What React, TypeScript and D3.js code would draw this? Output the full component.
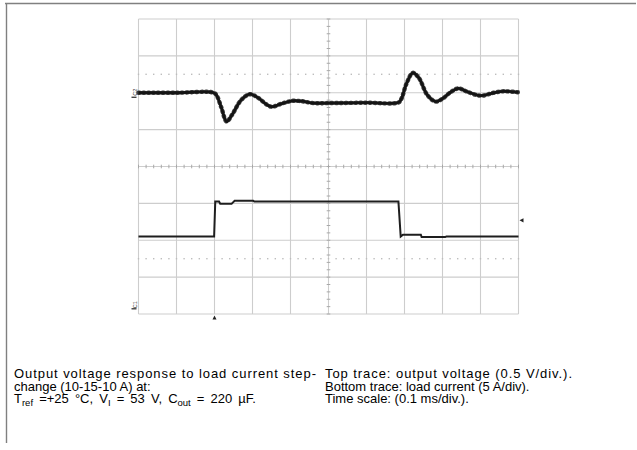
import React from 'react';
import * as d3 from 'd3';

// time in µs (0.1 ms/div), top trace = output voltage deviation in V (0.5 V/div)
const vTime = [0, 100, 198, 206, 218, 232, 246, 270, 293, 315, 340, 352, 375, 405, 430, 460, 500, 600, 685, 692, 705, 722, 738, 760, 782, 800, 822, 842, 862, 900, 935, 960, 1000];
const vDev = [0, 0, 0, -0.04, -0.2, -0.39, -0.3, -0.1, -0.02, -0.07, -0.17, -0.19, -0.15, -0.11, -0.115, -0.14, -0.14, -0.135, -0.13, -0.08, 0.12, 0.27, 0.2, -0.03, -0.12, -0.08, 0.01, 0.06, 0.02, -0.04, 0, 0.02, 0.005];

// bottom trace = load current in A (5 A/div)
const iTime = [0, 199, 202, 212, 215, 245, 248, 253, 302, 305, 684, 690, 696, 743, 745, 807, 810, 1000];
const iAmp = [10, 10, 14.75, 14.75, 14.45, 14.45, 14.6, 14.85, 14.85, 14.75, 14.75, 10, 10.25, 10.25, 9.93, 9.93, 10, 10];

const xDivs = d3.range(0, 11);
const yDivs = d3.range(-4, 5);
const V_PER_DIV = 0.5;
const A_PER_DIV = 5;
const C2_OFFSET = 2; // divisions
const C1_OFFSET = -3.9;

const W = 637, H = 450;

export default function App() {
  const x = d3.scaleLinear().domain([0, 1000]).range([138.5, 518.5]);
  const div = d3.scaleLinear().domain([-4, 4]).range([314, 19]);
  const xd = d3.scaleLinear().domain([0, 10]).range([138.5, 518.5]);
  const yV = (v: number) => div(C2_OFFSET + v / V_PER_DIV);
  const yI = (a: number) => div(C1_OFFSET + a / A_PER_DIV);

  const vLine = d3.line<number>()
    .x((_, i) => x(vTime[i]))
    .y(d => yV(d))
    .curve(d3.curveCatmullRom.alpha(0.5));
  const iLine = d3.line<number>()
    .x((_, i) => x(iTime[i]))
    .y(d => yI(d));

  const minor = d3.range(0, 50.01, 1).map(k => k / 5); // along x in divs
  const minorY = d3.range(-20, 20.01, 1).map(k => k / 5);
  const cx = xd(5), cy = div(0);
  const gridCol = '#cdcdcd';
  const font = 'Liberation Sans, Arial, sans-serif';

  return (
    <svg width={W} height={H} style={{ position: 'absolute', left: 0, top: 0, background: '#fff' }}>
      {/* page frame */}
      <line x1={5} x2={636} y1={3.5} y2={3.5} stroke="#808080" strokeWidth={1.4} />
      <line x1={6.5} x2={6.5} y1={3} y2={443} stroke="#808080" strokeWidth={1.4} />

      {/* graticule */}
      <g stroke={gridCol} strokeWidth={1.1}>
        {xDivs.map(k => <line key={'vx' + k} x1={xd(k)} x2={xd(k)} y1={div(-4)} y2={div(4)} />)}
        {yDivs.map(k => <line key={'hy' + k} x1={xd(0)} x2={xd(10)} y1={div(k)} y2={div(k)} />)}
      </g>
      {/* dotted lines */}
      <g fill="#bdbdbd">
        {[2.5, -2.5].map(r => minor.map(m => (
          <rect key={r + '_' + m} x={xd(m) - 0.7} y={div(r) - 0.7} width={1.4} height={1.4} />
        )))}
      </g>
      {/* center axis ticks */}
      <g stroke="#a8a8a8" strokeWidth={1}>
        {minor.map(m => <line key={'tx' + m} x1={xd(m)} x2={xd(m)} y1={cy - 1.8} y2={cy + 1.8} />)}
        {minorY.map(m => <line key={'ty' + m} x1={cx - 1.8} x2={cx + 1.8} y1={div(m)} y2={div(m)} />)}
      </g>

      {/* traces */}
      <path d={iLine(iAmp) || ''} fill="none" stroke="#1e1e1e" strokeWidth={2} />
      <path d={vLine(vDev) || ''} fill="none" stroke="#222" strokeWidth={2.8} />
      <path d={vLine(vDev) || ''} fill="none" stroke="#111" strokeWidth={4.4} strokeDasharray="1.2 3.6" strokeLinecap="round" opacity={0.8} />

      {/* channel markers */}
      <g fontFamily={font} fontSize={5.5} fill="#333">
        <text transform={`translate(${x(0) - 2},${yV(0) + 3}) rotate(-90)`}>C2</text>
        <text transform={`translate(${x(0) - 2},${yI(0) - 2}) rotate(-90)`}>C1</text>
      </g>
      <line x1={x(0) - 7} x2={x(0) - 2} y1={yV(0) + 4.5} y2={yV(0) + 4.5} stroke="#222" strokeWidth={1.2} />
      <line x1={x(0) - 7} x2={x(0) - 2} y1={yI(0) - 1.5} y2={yI(0) - 1.5} stroke="#222" strokeWidth={1.2} />
      <path d={`M${x(200)},${div(-4) + 1.5} l-2,4 h4 z`} fill="#222" />
      <path d={`M${xd(10) + 1},${yI(12.2)} l4,-2.2 v4.4 z`} fill="#222" />

      {/* caption */}
      <g fontFamily={font} fontSize={13} fill="#000">
        <text x={14} y={378} textLength={302} lengthAdjust="spacing">Output voltage response to load current step-</text>
        <text x={14} y={390.5}>change (10-15-10 A) at:</text>
        <text x={14} y={403} wordSpacing={2.5}>
          T<tspan fontSize={9.5} dy={3}>ref</tspan>
          <tspan dy={-3}> =+25 °C, V</tspan>
          <tspan fontSize={9.5} dy={3}>I</tspan>
          <tspan dy={-3}> = 53 V, C</tspan>
          <tspan fontSize={9.5} dy={3}>out</tspan>
          <tspan dy={-3}> = 220 µF.</tspan>
        </text>
        <text x={325} y={378} textLength={247} lengthAdjust="spacing">Top trace: output voltage (0.5 V/div.).</text>
        <text x={325} y={390.5}>Bottom trace: load current (5 A/div).</text>
        <text x={325} y={403}>Time scale: (0.1 ms/div.).</text>
      </g>
    </svg>
  );
}
